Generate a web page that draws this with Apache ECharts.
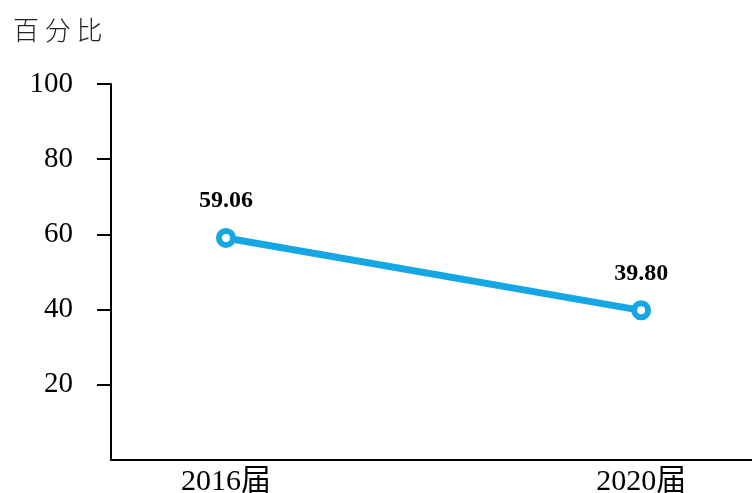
<!DOCTYPE html>
<html>
<head>
<meta charset="utf-8">
<script src="https://cdn.jsdelivr.net/npm/echarts@6/dist/echarts.min.js"></script>
<style>
  html, body { margin: 0; padding: 0; background: #fff; }
  #chart { width: 752px; height: 493px; }
</style>
</head>
<body>
<div id="chart"></div>
<script>
  // 数据
  var categories = ['2016届', '2020届'];
  var values = [59.06, 39.80];
  var yTicks = [20, 40, 60, 80, 100];

  var chart = echarts.init(document.getElementById('chart'));
  chart.setOption({
    animation: false,
    title: {
      text: '百 分 比',
      left: 8,
      top: 12,
      textStyle: {
        fontFamily: 'Noto Sans CJK SC',
        fontWeight: 300,
        fontSize: 26,
        color: '#222'
      }
    },
    grid: { left: 111, right: 0, top: 84, bottom: 33, outerBoundsMode: 'none' },
    xAxis: {
      type: 'value',
      min: -0.277,
      max: 1.267,
      axisLine: { onZero: false, lineStyle: { color: '#000', width: 2 } },
      axisTick: { show: false },
      splitLine: { show: false },
      axisLabel: {
        customValues: [0, 1],
        formatter: function (v) { return categories[Math.round(v)]; },
        fontFamily: 'Liberation Serif, Noto Sans CJK SC',
        fontSize: 30,
        color: '#000',
        margin: 7
      }
    },
    yAxis: {
      type: 'value',
      min: 0,
      max: 100,
      interval: 20,
      axisLine: { show: true, onZero: false, lineStyle: { color: '#000', width: 2 } },
      axisTick: { show: true, customValues: yTicks, length: 14, lineStyle: { color: '#000', width: 2 } },
      splitLine: { show: false },
      axisLabel: {
        customValues: yTicks,
        fontFamily: 'Liberation Serif',
        fontSize: 29,
        color: '#000',
        margin: 38
      }
    },
    series: [{
      type: 'line',
      data: values.map(function (v, i) { return [i, v]; }),
      symbol: 'circle',
      symbolSize: 14,
      lineStyle: { color: '#14a7e3', width: 7 },
      itemStyle: { color: '#fff', borderColor: '#14a7e3', borderWidth: 6 },
      label: {
        show: true,
        position: 'top',
        distance: 15,
        formatter: function (p) { return p.value[1].toFixed(2); },
        fontFamily: 'Liberation Serif',
        fontWeight: 'bold',
        fontSize: 24,
        color: '#000'
      }
    }]
  });
</script>
</body>
</html>
